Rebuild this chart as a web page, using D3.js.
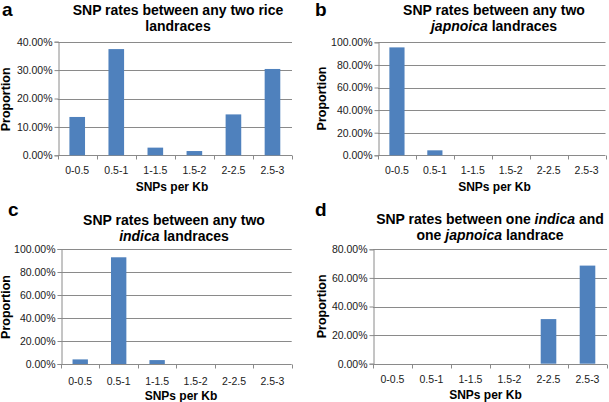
<!DOCTYPE html>
<html><head><meta charset="utf-8">
<script src="https://cdn.jsdelivr.net/npm/d3@7"></script>
<style>
html,body{margin:0;padding:0;background:#fff;}
svg{display:block;font-family:"Liberation Sans",Arial,Helvetica,sans-serif;}
</style></head>
<body><svg id="chart" width="609" height="402"></svg>
<script>
const categories = ["0-0.5","0.5-1","1-1.5","1.5-2","2-2.5","2.5-3"];
const valuesA = [13.5, 37.4, 2.7, 1.5, 14.4, 30.4];
const valuesB = [95.5, 4.4, 0, 0, 0, 0];
const valuesC = [4.0, 92.8, 3.4, 0, 0, 0];
const valuesD = [0, 0, 0, 0, 31.2, 68.6];
const ticksA = [0, 10, 20, 30, 40];
const ticksB = [0, 20, 40, 60, 80, 100];
const ticksC = [0, 20, 40, 60, 80, 100];
const ticksD = [0, 20, 40, 60, 80];
const letters = ["a", "b", "c", "d"];
const titleA = [[["SNP rates between any two rice", false]], [["landraces", false]]];
const titleB = [[["SNP rates between any two", false]], [["japnoica", true], [" landraces", false]]];
const titleC = [[["SNP rates between any two", false]], [["indica", true], [" landraces", false]]];
const titleD = [[["SNP rates between one ", false], ["indica", true], [" and", false]], [["one ", false], ["japnoica", true], [" landrace", false]]];
const xTitle = "SNPs per Kb";
const yTitle = "Proportion";

const panels = [
  {values: valuesA, ticks: ticksA, title: titleA, letter: letters[0],
   x0: 57.7, x1: 292, yTop: 41.7, yBot: 155.3, titleX: 178, titleY: 15, letterX: 2, letterY: 16, yTitleX: 10, yTitleY: 99.3, tickY: 174, xTitleX: 172, xTitleY: 190.5},
  {values: valuesB, ticks: ticksB, title: titleB, letter: letters[1],
   x0: 378, x1: 605.5, yTop: 42.3, yBot: 155.3, titleX: 494, titleY: 15, letterX: 315, letterY: 16, yTitleX: 326, yTitleY: 98.5, tickY: 174, xTitleX: 494.5, xTitleY: 190.5},
  {values: valuesC, ticks: ticksC, title: titleC, letter: letters[2],
   x0: 61, x1: 291.7, yTop: 249, yBot: 364, titleX: 174, titleY: 225, letterX: 8, letterY: 216, yTitleX: 10, yTitleY: 307, tickY: 385, xTitleX: 181, xTitleY: 400},
  {values: valuesD, ticks: ticksD, title: titleD, letter: letters[3],
   x0: 373, x1: 607, yTop: 249.3, yBot: 363.7, titleX: 490, titleY: 223.5, letterX: 315, letterY: 216, yTitleX: 325.5, yTitleY: 306.3, tickY: 383, xTitleX: 485.5, xTitleY: 399}
];

const svg = d3.select("#chart");
const fmt = d => d.toFixed(2) + "%";

panels.forEach(p => {
  const g = svg.append("g");
  const x = d3.scaleBand().domain(categories).range([p.x0, p.x1]).paddingInner(0.6).paddingOuter(0.3);
  const xEdge = d3.scaleLinear().domain([0, categories.length]).range([p.x0, p.x1]);
  const maxT = d3.max(p.ticks);
  const y = d3.scaleLinear().domain([0, maxT]).range([p.yBot, p.yTop]);

  // gridlines
  g.append("g").selectAll("line").data(p.ticks.filter(t => t > 0)).join("line")
    .attr("x1", p.x0).attr("x2", p.x1)
    .attr("y1", d => Math.round(y(d)) + 0.5).attr("y2", d => Math.round(y(d)) + 0.5)
    .attr("stroke", "#8a8a8a").attr("stroke-width", 1);

  // y axis
  const yAxis = d3.axisLeft(y).tickValues(p.ticks).tickFormat(fmt).tickSize(4).tickPadding(2);
  const ya = g.append("g").attr("transform", `translate(${Math.round(p.x0) + 0.5},0)`).call(yAxis);
  ya.select(".domain").attr("stroke", "#8a8a8a");
  ya.selectAll(".tick line").attr("stroke", "#8a8a8a");
  ya.selectAll(".tick text").attr("font-size", "10.5px").attr("fill", "#1a1a1a")
    .attr("font-family", '"Liberation Sans",Arial,sans-serif');

  // x axis: tick marks at category boundaries
  g.append("line").attr("x1", p.x0).attr("x2", p.x1)
    .attr("y1", Math.round(p.yBot) + 0.5).attr("y2", Math.round(p.yBot) + 0.5)
    .attr("stroke", "#8a8a8a");
  g.append("g").selectAll("line").data(d3.range(categories.length + 1)).join("line")
    .attr("x1", d => Math.round(xEdge(d)) + 0.5).attr("x2", d => Math.round(xEdge(d)) + 0.5)
    .attr("y1", Math.round(p.yBot) + 0.5).attr("y2", Math.round(p.yBot) + 4.5)
    .attr("stroke", "#8a8a8a");
  g.append("g").selectAll("text").data(categories).join("text")
    .attr("x", d => x(d) + x.bandwidth() / 2).attr("y", p.tickY)
    .attr("text-anchor", "middle").attr("font-size", "10.5px").attr("fill", "#1a1a1a")
    .text(d => d);

  // bars
  g.append("g").selectAll("rect").data(p.values.map((v, i) => ({c: categories[i], v}))).join("rect")
    .attr("x", d => x(d.c)).attr("width", x.bandwidth())
    .attr("y", d => y(d.v)).attr("height", d => y(0) - y(d.v))
    .attr("fill", "#4f81bd");

  // title
  p.title.forEach((line, li) => {
    const t = g.append("text").attr("x", p.titleX).attr("y", p.titleY + li * 16)
      .attr("text-anchor", "middle").attr("font-size", "14px").attr("font-weight", "bold").attr("fill", "#000");
    line.forEach(([s, it]) => {
      t.append("tspan").attr("font-style", it ? "italic" : "normal").text(s);
    });
  });

  // letter
  g.append("text").attr("x", p.letterX).attr("y", p.letterY)
    .attr("font-size", "19px").attr("font-weight", "bold").attr("fill", "#000").text(p.letter);

  // axis titles
  g.append("text").attr("x", p.xTitleX).attr("y", p.xTitleY)
    .attr("text-anchor", "middle").attr("font-size", "12px").attr("font-weight", "bold").text(xTitle);
  g.append("text").attr("transform", `translate(${p.yTitleX},${p.yTitleY}) rotate(-90)`)
    .attr("text-anchor", "middle").attr("font-size", "12.5px").attr("font-weight", "bold").text(yTitle);
});
</script>
</body></html>
